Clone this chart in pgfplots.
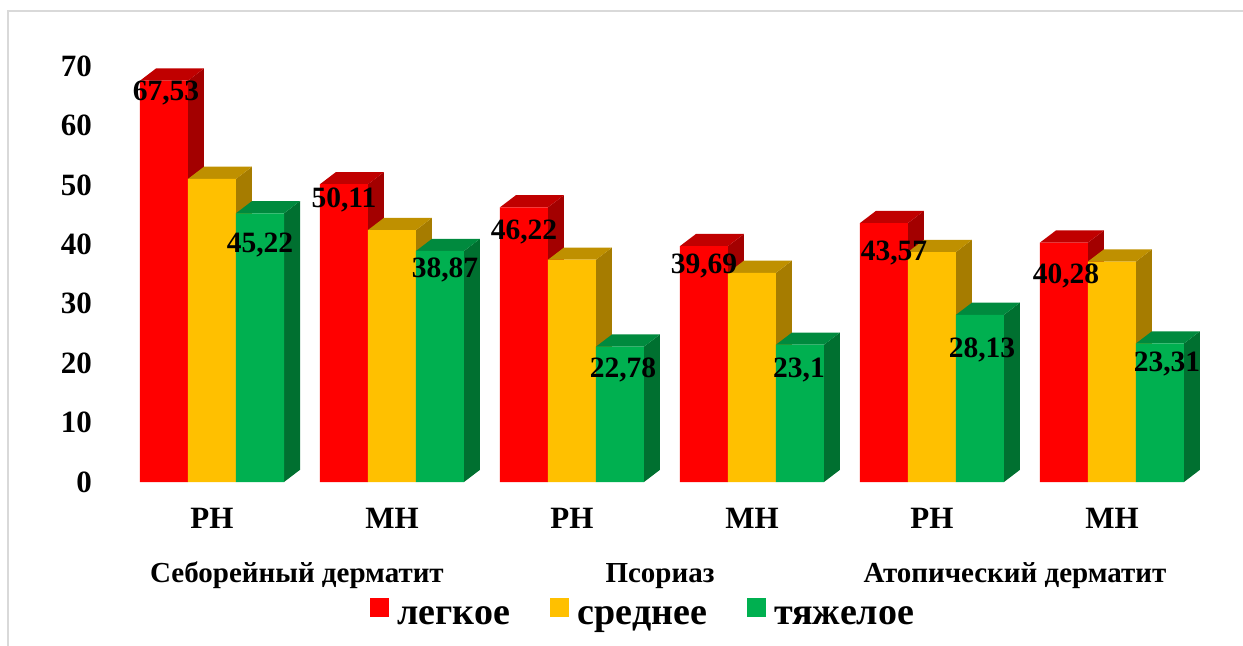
\documentclass[border=0pt]{standalone}
\usepackage{fontspec}
\setmainfont{Liberation Serif}
\usepackage{pgfplots}
\usepackage{pgfplotstable}
\pgfplotsset{compat=1.18}

\definecolor{redfront}{HTML}{FF0000}
\definecolor{redtop}{HTML}{C00000}
\definecolor{redside}{HTML}{A30000}
\definecolor{yelfront}{HTML}{FFC000}
\definecolor{yeltop}{HTML}{BF9000}
\definecolor{yelside}{HTML}{A67C00}
\definecolor{grnfront}{HTML}{00B050}
\definecolor{grntop}{HTML}{008A3E}
\definecolor{grnside}{HTML}{007030}
\definecolor{framegray}{HTML}{D9D9D9}

% severity shares per group; rlx/rly, glx/gly: label offsets (bp) for the red and green labels
\pgfplotstableread{
x leg sred tyazh rlx rly glx gly
0 67.53 51.0 45.22 2 12 0 32
1 50.11 42.4 38.87 0 16 5 19
2 46.22 37.4 22.78 0 25 3 23
3 39.69 35.2 23.1 0 20 -1 25
4 43.57 38.7 28.13 10 30 2 35
5 40.28 37.1 23.31 2 33 7 21
}\bars

% bar width, depth offsets of the 3D faces (axis units)
\def\bw{0.2667}
\def\dpx{0.0889}
\def\dpy{2.05}

\newcommand\ticksize{\fontsize{31bp}{31bp}\selectfont\bfseries}
\newcommand\valsize{\fontsize{29.5bp}{29.5bp}\selectfont\bfseries}
\newcommand\catsize{\fontsize{29bp}{29bp}\selectfont\bfseries}
\newcommand\legsize{\fontsize{38bp}{38bp}\selectfont\bfseries}

% side and top faces of one box: #1 left x of front face, #2 value, #3 top colour, #4 side colour
\newcommand\boxfaces[4]{%
  \pgfmathsetmacro\xa{#1}%
  \pgfmathsetmacro\xb{#1+\bw}%
  \pgfmathsetmacro\xc{#1+\bw+\dpx}%
  \pgfmathsetmacro\xd{#1+\dpx}%
  \pgfmathsetmacro\ya{#2}%
  \pgfmathsetmacro\yb{#2+\dpy}%
  \edef\tmp{%
    \noexpand\addplot[forget plot, fill=#4, draw=none] coordinates {(\xb,0) (\xc,\dpy) (\xc,\yb) (\xb,\ya)};%
    \noexpand\addplot[forget plot, fill=#3, draw=none] coordinates {(\xa,\ya) (\xd,\yb) (\xc,\yb) (\xb,\ya)};%
  }\tmp
}
% faces of one whole series: #1 column, #2 position in group (-1,0,1), #3 top, #4 side
\newcommand\seriesfaces[4]{%
  \pgfplotsforeachungrouped \i in {0,...,5}{%
    \pgfplotstablegetelem{\i}{#1}\of\bars
    \let\barval\pgfplotsretval
    \pgfmathsetmacro\xl{\i+(#2-0.5)*\bw}%
    \boxfaces{\xl}{\barval}{#3}{#4}%
  }%
}

\begin{document}
\begin{tikzpicture}
\path[use as bounding box] (0,0) rectangle (1243bp,646bp);
\draw[framegray, line width=1.5bp] (8bp,0) -- (8bp,635bp) -- (1243bp,635bp);
\begin{axis}[
  at={(122bp,164bp)}, anchor=south west,
  scale only axis, width=1080bp, height=416bp,
  xmin=-0.5, xmax=5.5, ymin=0, ymax=70,
  clip=false,
  axis line style={draw=none},
  major tick length=0pt, tick style={draw=none},
  ytick={0,10,...,70},
  xtick={0,...,5},
  xticklabels={РН,МН,РН,МН,РН,МН},
  /pgf/number format/assume math mode=true,
  yticklabel style={font=\ticksize, anchor=east, inner sep=0pt, xshift=-30bp},
  xticklabel style={font=\ticksize, anchor=base, inner sep=0pt, yshift=-46bp},
  legend style={at={(axis description cs:0.2296,-0.3125)}, anchor=west,
    draw=none, fill=none, font=\legsize, inner sep=0pt,
    nodes={inner sep=0pt},
    legend columns=3,
    /tikz/every odd column/.append style={column sep=9bp},
    /tikz/every even column/.append style={column sep=40bp}},
  legend cell align=left,
  % #1: column prefix of the offsets, #2: horizontal place of the bar within its group
  value label/.style n args={2}{
    nodes near coords={\pgfmathprintnumber[fixed, precision=2, use comma]{\pgfplotspointmeta}},
    visualization depends on={\thisrow{#1lx} \as \lx},
    visualization depends on={\thisrow{#1ly} \as \ly},
    every node near coord/.append style={font=\valsize, anchor=center, inner sep=0pt,
      xshift=\lx bp+#2, yshift=-\ly bp}},
]
% legend entries
\addlegendimage{legend image code/.code={\fill[redfront] (0bp,0bp) rectangle (18bp,18bp);}}
\addlegendentry{легкое}
\addlegendimage{legend image code/.code={\fill[yelfront] (0bp,0bp) rectangle (18bp,18bp);}}
\addlegendentry{среднее}
\addlegendimage{legend image code/.code={\fill[grnfront] (0bp,0bp) rectangle (18bp,18bp);}}
\addlegendentry{тяжелое}

% light
\seriesfaces{leg}{-1}{redtop}{redside}
\addplot[ybar, forget plot, bar width=\bw, bar shift=-\bw, fill=redfront, draw=none, value label={r}{-48bp}]
  table[x=x, y=leg]{\bars};
% moderate
\seriesfaces{sred}{0}{yeltop}{yelside}
\addplot[ybar, forget plot, bar width=\bw, bar shift=0, fill=yelfront, draw=none]
  table[x=x, y=sred]{\bars};
% severe
\seriesfaces{tyazh}{1}{grntop}{grnside}
\addplot[ybar, forget plot, bar width=\bw, bar shift=\bw, fill=grnfront, draw=none, value label={g}{48bp}]
  table[x=x, y=tyazh]{\bars};

% disease names under each pair of groups
\node[font=\catsize, anchor=base] at (axis cs:0.472,0) [yshift=-100bp] {Себорейный дерматит};
\node[font=\catsize, anchor=base] at (axis cs:2.489,0) [yshift=-100bp] {Псориаз};
\node[font=\catsize, anchor=base] at (axis cs:4.461,0) [yshift=-100bp] {Атопический дерматит};
\end{axis}
\end{tikzpicture}
\end{document}
